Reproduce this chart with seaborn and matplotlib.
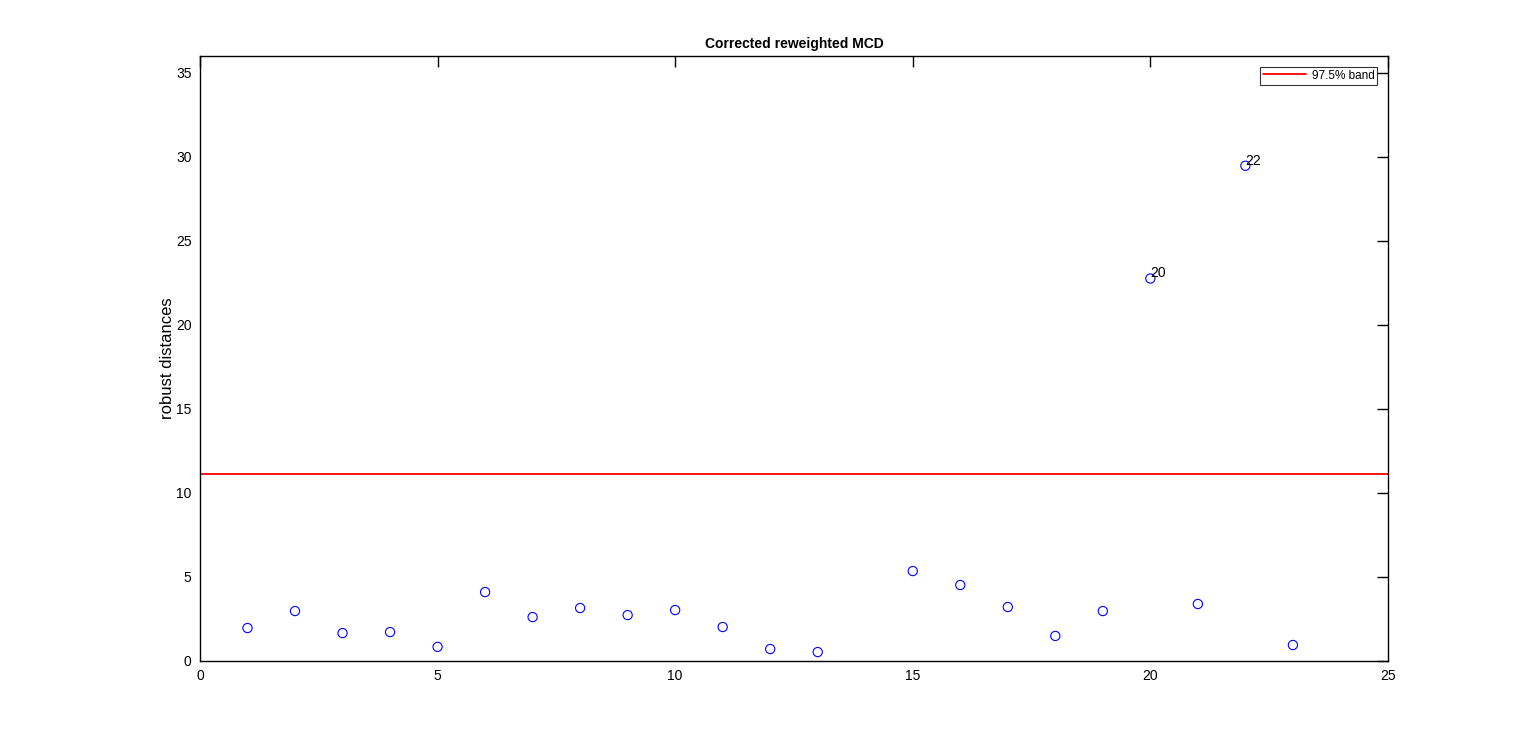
import numpy as np
import pandas as pd
import matplotlib
matplotlib.use("Agg")
import matplotlib.pyplot as plt
import seaborn as sns

# robust distances per observation (obs 14 has no plotted value)
obs = [1, 2, 3, 4, 5, 6, 7, 8, 9, 10, 11, 12, 13, 15, 16, 17, 18, 19, 20, 21, 22, 23]
dist = [1.96, 2.97, 1.66, 1.72, 0.84, 4.10, 2.61, 3.15, 2.73, 3.03, 2.02, 0.71, 0.53,
        5.35, 4.52, 3.21, 1.49, 2.97, 22.76, 3.39, 29.47, 0.95]
cutoff = 11.14
outliers = [20, 22]

df = pd.DataFrame({"obs": obs, "dist": dist})

sns.set_style("white")
plt.rcParams['font.family'] = ['Liberation Sans', 'DejaVu Sans']
plt.rcParams['text.color'] = 'black'
plt.rcParams['axes.labelcolor'] = 'black'

fig = plt.figure(figsize=(15.36, 7.44), dpi=100)
ax = fig.add_axes([0.1302, 0.1116, 0.7734, 0.8131])

sns.scatterplot(data=df, x="obs", y="dist", ax=ax, marker="o", s=44,
                facecolors="none", edgecolor="#0000ff", linewidth=0.8, zorder=3)
ax.axhline(cutoff, color="#ff0000", linewidth=1.3, label="97.5% band")

for o in outliers:
    d = df.loc[df["obs"] == o, "dist"].values[0]
    ax.text(o, d + 0.3, str(o), ha="left", va="center", fontsize=10)

ax.set_xlim(0, 25)
ax.set_ylim(0, 36)
ax.set_xticks([0, 5, 10, 15, 20, 25])
ax.set_yticks([0, 5, 10, 15, 20, 25, 30, 35])
ax.tick_params(direction="in", length=8, width=1, top=True, right=True,
               labelsize=10, colors="black", pad=6)
for sp in ax.spines.values():
    sp.set_color("black")
    sp.set_linewidth(1)

ax.set_xlabel("")
ax.set_ylabel("robust distances", fontsize=12, labelpad=1)
ax.set_title("Corrected reweighted MCD", fontsize=10, fontweight="bold", pad=6)

leg = ax.legend(loc="upper right", fontsize=8.5, frameon=True, fancybox=False,
                handlelength=3.6, borderpad=0.25, borderaxespad=0.9, handletextpad=0.5)
leg.get_frame().set_edgecolor("black")
leg.get_frame().set_linewidth(0.8)

fig.savefig("out.png", dpi=100)
